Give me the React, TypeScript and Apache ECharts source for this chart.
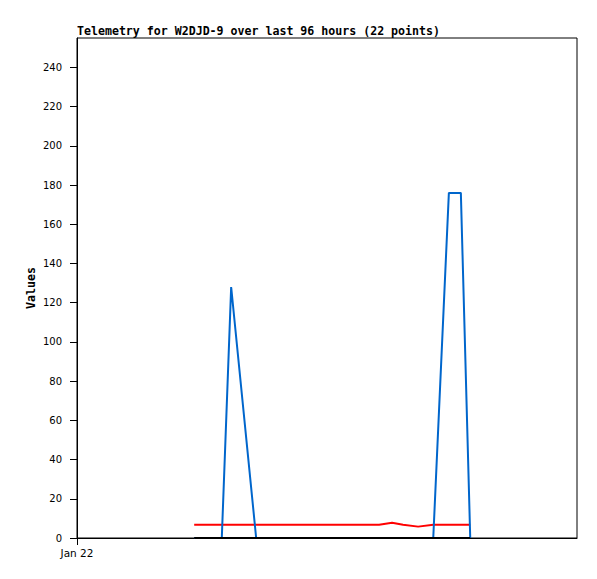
import React, { useEffect, useRef } from "react";
import * as echarts from "echarts";

// hours since the left edge of the chart (Jan 22)
const hours = [22.5, 25, 27.8, 29.6, 34.4, 37, 40, 43, 44.5, 46, 47.5, 49, 52, 55, 58, 60.5, 62.6, 65.5, 68.4, 71.4, 73.7, 75.5];
const blueValues = [0, 0, 0, 128, 0, 0, 0, 0, 0, 0, 0, 0, 0, 0, 0, 0, 0, 0, 0, 176, 176, 0];
const redValues = [6.8, 6.8, 6.8, 6.8, 6.8, 6.8, 6.8, 6.8, 6.8, 6.8, 6.8, 6.8, 6.8, 6.8, 6.8, 7.8, 6.8, 5.8, 6.8, 6.8, 6.8, 6.8];
const blackValues = [0, 0, 0, 0, 0, 0, 0, 0, 0, 0, 0, 0, 0, 0, 0, 0, 0, 0, 0, 0, 0, 0];
const yTicks = [0, 20, 40, 60, 80, 100, 120, 140, 160, 180, 200, 220, 240];
const xTicks = [0];
const xTickLabels = ["Jan 22"];
const titleText = "Telemetry for W2DJD-9 over last 96 hours (22 points)";

const pair = (vals: number[]) => hours.map((h, i) => [h, vals[i]]);

export default function App() {
  const ref = useRef<HTMLDivElement>(null);
  useEffect(() => {
    if (!ref.current) return;
    const chart = echarts.init(ref.current, null, { renderer: "svg" });
    const mono = "'DejaVu Sans Mono', monospace";
    chart.setOption({
      animation: false,
      backgroundColor: "#fff",
      title: {
        text: titleText,
        left: 77,
        top: 25,
        padding: 0,
        textStyle: { fontFamily: mono, fontWeight: "bold", fontSize: 11.6, color: "#000" },
      },
      grid: {
        left: 77,
        top: 38,
        width: 500,
        height: 500,
        show: true,
        borderColor: "#000",
        borderWidth: 1,
        backgroundColor: "transparent",
      },
      xAxis: {
        type: "value",
        min: 0,
        max: 96,
        splitLine: { show: false },
        axisLine: { show: true, lineStyle: { color: "#000", width: 1 } },
        axisTick: { show: true, length: 7, customValues: xTicks, lineStyle: { color: "#000" } },
        axisLabel: {
          customValues: xTicks,
          formatter: (v: number) => xTickLabels[xTicks.indexOf(v)] ?? "",
          color: "#000",
          fontFamily: "'DejaVu Sans', sans-serif",
          fontSize: 10.5,
          margin: 9,
        },
      },
      yAxis: {
        type: "value",
        min: 0,
        max: 255,
        name: "Values",
        nameLocation: "middle",
        nameRotate: 90,
        nameGap: 40,
        nameMoveOverlap: false,
        nameTextStyle: { fontFamily: mono, fontWeight: "bold", fontSize: 11.6, color: "#000" },
        splitLine: { show: false },
        axisLine: { show: true, lineStyle: { color: "#000", width: 1 } },
        axisTick: { show: true, length: 7, customValues: yTicks, lineStyle: { color: "#000" } },
        axisLabel: {
          customValues: yTicks,
          color: "#000",
          fontFamily: "'DejaVu Sans', sans-serif",
          fontSize: 10,
          margin: 15,
        },
      },
      series: [
        {
          type: "line",
          data: pair(redValues),
          showSymbol: false,
          lineStyle: { color: "#ff0000", width: 2 },
          z: 2,
        },
        {
          type: "line",
          data: pair(blueValues),
          showSymbol: false,
          lineStyle: { color: "#0066cc", width: 2 },
          z: 3,
        },
        {
          type: "line",
          data: pair(blackValues),
          showSymbol: false,
          lineStyle: { color: "#000000", width: 2 },
          z: 4,
        },
      ],
    });
    return () => chart.dispose();
  }, []);
  return (
    <div
      ref={ref}
      style={{ position: "absolute", left: 0, top: 0, width: 597, height: 579, background: "#fff" }}
    />
  );
}
